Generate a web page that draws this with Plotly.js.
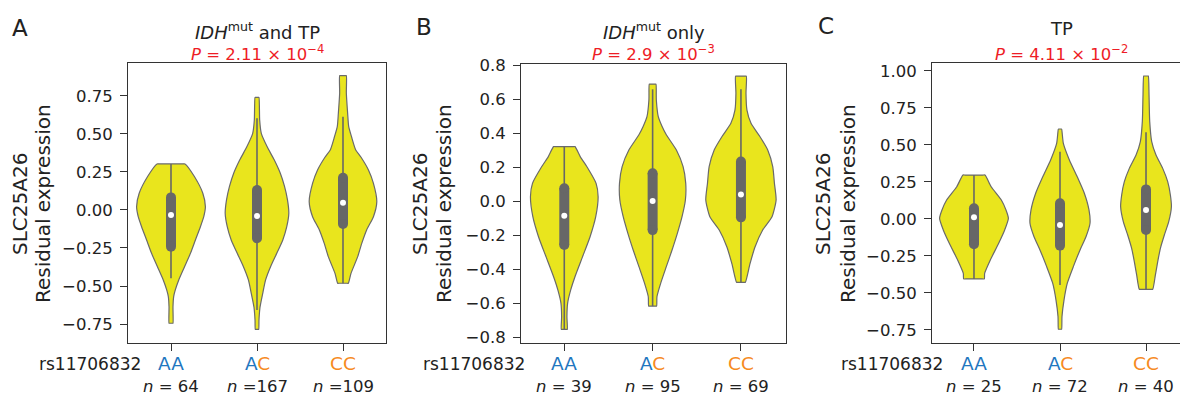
<!DOCTYPE html>
<html><head><meta charset="utf-8">
<script src="https://cdn.plot.ly/plotly-3.0.1.min.js"></script>
<style>html,body{margin:0;padding:0;background:#fff;overflow:hidden}#chart{width:1180px;height:396px}</style>
</head><body><div id="chart"></div>
<script>
// ---------------- data ----------------
const genotypes = ['AA', 'AC', 'CC'];
const snpName = 'rs11706832';
const panelLetters = ['A', 'B', 'C'];
const panelTitles = ['<i>IDH</i><sup>mut</sup> and TP', '<i>IDH</i><sup>mut</sup> only', 'TP'];
const pLabels = ['<i>P</i> = 2.11 × 10<sup>−4</sup>', '<i>P</i> = 2.9 × 10<sup>−3</sup>', '<i>P</i> = 4.11 × 10<sup>−2</sup>'];
const yTitle1 = 'SLC25A26';
const yTitle2 = 'Residual expression';
const nA = ['<i>n</i> = 64', '<i>n</i> =167', '<i>n</i> =109'];
const nB = ['<i>n</i> = 39', '<i>n</i> = 95', '<i>n</i> = 69'];
const nC = ['<i>n</i> = 25', '<i>n</i> = 72', '<i>n</i> = 40'];

// violin density profiles: value levels and half widths (category units)
const A_AA_y = [0.303,0.22,0.11,0.022,-0.044,-0.11,-0.197,-0.285,-0.37,-0.46,-0.526,-0.57,-0.636,-0.745];
const A_AA_w = [0.163,0.272,0.37,0.40,0.381,0.342,0.284,0.226,0.16,0.09,0.05,0.031,0.023,0.023];
const A_AC_y = [0.741,0.592,0.504,0.417,0.33,0.243,0.155,0.068,-0.022,-0.11,-0.197,-0.285,-0.37,-0.46,-0.55,-0.64,-0.724,-0.785];
const A_AC_w = [0.023,0.031,0.05,0.117,0.2,0.27,0.32,0.354,0.37,0.346,0.3,0.23,0.16,0.1,0.066,0.035,0.023,0.02];
const A_CC_y = [0.884,0.768,0.636,0.55,0.48,0.395,0.35,0.263,0.175,0.055,-0.044,-0.13,-0.22,-0.307,-0.417,-0.482];
const A_CC_w = [0.039,0.039,0.054,0.066,0.1,0.148,0.206,0.296,0.354,0.393,0.354,0.276,0.218,0.171,0.093,0.062];

const B_AA_y = [0.32,0.26,0.2,0.104,0.025,-0.092,-0.21,-0.33,-0.445,-0.524,-0.6,-0.68,-0.755];
const B_AA_w = [0.121,0.182,0.258,0.36,0.383,0.356,0.292,0.205,0.121,0.072,0.038,0.03,0.034];
const B_AC_y = [0.688,0.594,0.496,0.44,0.39,0.3,0.202,0.104,0.006,-0.092,-0.19,-0.288,-0.386,-0.484,-0.563,-0.618];
const B_AC_w = [0.038,0.042,0.064,0.106,0.155,0.269,0.345,0.375,0.371,0.333,0.28,0.22,0.155,0.091,0.049,0.045];
const B_CC_y = [0.735,0.633,0.535,0.457,0.378,0.3,0.202,0.104,0.006,-0.092,-0.17,-0.27,-0.37,-0.478];
const B_CC_w = [0.061,0.057,0.068,0.114,0.216,0.303,0.36,0.379,0.398,0.352,0.246,0.159,0.102,0.05];

const C_AA_y = [0.297,0.218,0.128,0.061,0.005,-0.074,-0.164,-0.277,-0.367,-0.405];
const C_AA_w = [0.128,0.2,0.318,0.372,0.4,0.357,0.287,0.19,0.124,0.12];
const C_AC_y = [0.608,0.511,0.399,0.286,0.174,0.061,-0.029,-0.12,-0.209,-0.322,-0.434,-0.547,-0.66,-0.745];
const C_AC_w = [0.019,0.039,0.109,0.2,0.283,0.337,0.349,0.302,0.233,0.155,0.085,0.047,0.023,0.019];
const C_CC_y = [0.966,0.838,0.658,0.523,0.432,0.342,0.252,0.162,0.083,-0.018,-0.108,-0.198,-0.288,-0.378,-0.475];
const C_CC_w = [0.027,0.035,0.043,0.066,0.116,0.194,0.252,0.283,0.295,0.264,0.213,0.167,0.136,0.109,0.078];

// inner box statistics per genotype (AA, AC, CC)
const A_q1 = [-0.241,-0.186,-0.092], A_q3 = [0.083,0.131,0.212], A_med = [-0.033,-0.039,0.048];
const A_lo = [-0.449,-0.658,-0.482], A_hi = [0.303,0.603,0.614];
const B_q1 = [-0.259,-0.171,-0.096], B_q3 = [0.075,0.163,0.232], B_med = [-0.086,0.0,0.039];
const B_lo = [-0.755,-0.618,-0.478], B_hi = [0.32,0.657,0.657];
const C_q1 = [-0.171,-0.18,-0.074], C_q3 = [0.072,0.106,0.2], C_med = [0.011,-0.041,0.061];
const C_lo = [-0.405,-0.446,-0.475], C_hi = [0.297,0.455,0.586];

// ---------------- layout helpers ----------------
const W = 1180, H = 396;
const fx = p => p / W;
const fy = p => 1 - p / H;
const FONT = 'DejaVu Sans, Liberation Sans, Arial, sans-serif';
const TXT = '#222222';
const YELLOW = '#e9e51d', EDGE = '#6a6a6a', BOXC = '#676767';
const BLUE = '#1f77bf', ORANGE = '#f68b1f';

const panels = [
  {sfx: '', xd: [128, 386], yd: [63, 343], xr: [-0.5, 2.5], yr: [-0.875, 0.967], dtick: 0.25, fmt: '.2f', mirrorY: true,
   vy: [A_AA_y, A_AC_y, A_CC_y], vw: [A_AA_w, A_AC_w, A_CC_w], q1: A_q1, q3: A_q3, med: A_med, lo: A_lo, hi: A_hi, n: nA,
   letter: [20, 28], ttl: 257, yt: [20, 43], rs: 142},
  {sfx: '2', xd: [521, 786], yd: [64, 343], xr: [-0.49, 2.51], yr: [-0.835, 0.806], dtick: 0.2, fmt: '.1f', mirrorY: true,
   vy: [B_AA_y, B_AC_y, B_CC_y], vw: [B_AA_w, B_AC_w, B_CC_w], q1: B_q1, q3: B_q3, med: B_med, lo: B_lo, hi: B_hi, n: nB,
   letter: [424, 27], ttl: 653.5, yt: [420, 444], rs: 526},
  {sfx: '3', xd: [932, 1180], yd: [63, 343], xr: [-0.488, 2.395], yr: [-0.838, 1.054], dtick: 0.25, fmt: '.2f', mirrorY: false,
   vy: [C_AA_y, C_AC_y, C_CC_y], vw: [C_AA_w, C_AC_w, C_CC_w], q1: C_q1, q3: C_q3, med: C_med, lo: C_lo, hi: C_hi, n: nC,
   letter: [825.5, 26], ttl: 1061.5, yt: [823, 848], rs: 944}
];

const traces = [];
const annotations = [];
const layout = {
  width: W, height: H, margin: {l: 0, r: 0, t: 0, b: 0},
  paper_bgcolor: '#ffffff', plot_bgcolor: '#ffffff', showlegend: false,
  font: {family: FONT, color: TXT, size: 16.5},
  annotations: annotations
};

function genoLabel(g) {
  if (g === 'AA') return {text: g, color: BLUE};
  if (g === 'CC') return {text: g, color: ORANGE};
  return {text: `A<span style="color:${ORANGE}">C</span>`, color: BLUE};
}

// violin outline: right side downward, flat cut at the minimum, left side upward, flat cut at the maximum
function violinPath(gi, ys, ws) {
  const xs = [], yy = [];
  const last = ys.length - 1, f = 0.8;
  for (let i = 0; i <= last; i++) { xs.push(gi + ws[i]); yy.push(ys[i]); }
  xs.push(gi + f * ws[last], gi - f * ws[last]); yy.push(ys[last], ys[last]);
  for (let i = last; i >= 0; i--) { xs.push(gi - ws[i]); yy.push(ys[i]); }
  xs.push(gi - f * ws[0], gi + f * ws[0]); yy.push(ys[0], ys[0]);
  xs.push(xs[0]); yy.push(yy[0]);
  return {xs, yy};
}

panels.forEach((p, pi) => {
  const xa = 'x' + p.sfx, ya = 'y' + p.sfx;
  layout['xaxis' + p.sfx] = {
    domain: [fx(p.xd[0]), fx(p.xd[1])], range: p.xr, anchor: ya,
    tickmode: 'array', tickvals: [0, 1, 2], showticklabels: false,
    ticks: 'outside', ticklen: 7, tickwidth: 1, tickcolor: '#333',
    showline: true, linecolor: '#333', linewidth: 1, mirror: true,
    showgrid: false, zeroline: false, fixedrange: true
  };
  layout['yaxis' + p.sfx] = {
    domain: [fy(p.yd[1]), fy(p.yd[0])], range: p.yr, anchor: xa,
    dtick: p.dtick, tick0: 0, tickformat: p.fmt,
    ticks: 'outside', ticklen: 7, tickwidth: 1, tickcolor: '#333',
    ticklabelstandoff: 4,
    tickfont: {family: FONT, size: 16.5, color: TXT},
    showline: true, linecolor: '#333', linewidth: 1, mirror: p.mirrorY,
    showgrid: false, zeroline: false, fixedrange: true
  };

  genotypes.forEach((g, gi) => {
    const path = violinPath(gi, p.vy[gi], p.vw[gi]);
    traces.push({type: 'scatter', mode: 'lines', x: path.xs, y: path.yy, xaxis: xa, yaxis: ya,
      fill: 'toself', fillcolor: YELLOW, line: {color: EDGE, width: 1.2, shape: 'spline', smoothing: 0.6, simplify: false},
      hoverinfo: 'skip'});
    traces.push({type: 'scatter', mode: 'lines', x: [gi, gi], y: [p.lo[gi], p.hi[gi]], xaxis: xa, yaxis: ya,
      line: {color: BOXC, width: 1.6}, hoverinfo: 'skip'});
    traces.push({type: 'scatter', mode: 'lines+markers', x: [gi, gi], y: [p.q1[gi], p.q3[gi]], xaxis: xa, yaxis: ya,
      line: {color: BOXC, width: 10}, marker: {color: BOXC, size: 10, line: {width: 0}}, hoverinfo: 'skip'});
    traces.push({type: 'scatter', mode: 'markers', x: [gi], y: [p.med[gi]], xaxis: xa, yaxis: ya,
      marker: {color: '#ffffff', size: 6, line: {width: 0}}, hoverinfo: 'skip'});

    const gl = genoLabel(g);
    annotations.push({xref: xa, yref: 'paper', x: gi, y: fy(363.5), text: gl.text, showarrow: false,
      xanchor: 'center', yanchor: 'middle', borderpad: 0, font: {family: FONT, size: 18.5, color: gl.color}});
    annotations.push({xref: xa, yref: 'paper', x: gi, y: fy(386), text: p.n[gi], showarrow: false,
      xanchor: 'center', yanchor: 'middle', borderpad: 0, font: {family: FONT, size: 16.5, color: TXT}});
  });

  annotations.push({xref: 'paper', yref: 'paper', x: fx(p.rs), y: fy(364), text: snpName, showarrow: false,
    xanchor: 'right', yanchor: 'middle', borderpad: 0, font: {family: FONT, size: 17, color: TXT}});
  annotations.push({xref: 'paper', yref: 'paper', x: fx(p.letter[0]), y: fy(p.letter[1]), text: panelLetters[pi], showarrow: false,
    xanchor: 'center', yanchor: 'middle', borderpad: 0, font: {family: FONT, size: 23, color: TXT}});
  annotations.push({xref: 'paper', yref: 'paper', x: fx(p.ttl), y: fy(pi === 2 ? 29 : 31), text: panelTitles[pi], showarrow: false,
    xanchor: 'center', yanchor: 'middle', borderpad: 0, font: {family: FONT, size: 18, color: TXT}});
  annotations.push({xref: 'paper', yref: 'paper', x: fx(p.ttl), y: fy(53), text: pLabels[pi], showarrow: false,
    xanchor: 'center', yanchor: 'middle', borderpad: 0, font: {family: FONT, size: 16.5, color: '#ee1c25'}});
  annotations.push({xref: 'paper', yref: 'paper', x: fx(p.yt[0]), y: fy(204), text: yTitle1, showarrow: false, textangle: -90,
    xanchor: 'center', yanchor: 'middle', borderpad: 0, font: {family: FONT, size: 20, color: TXT}});
  annotations.push({xref: 'paper', yref: 'paper', x: fx(p.yt[1]), y: fy(204), text: yTitle2, showarrow: false, textangle: -90,
    xanchor: 'center', yanchor: 'middle', borderpad: 0, font: {family: FONT, size: 20, color: TXT}});
});

Plotly.newPlot('chart', traces, layout, {displayModeBar: false, staticPlot: true});
</script>
</body></html>
